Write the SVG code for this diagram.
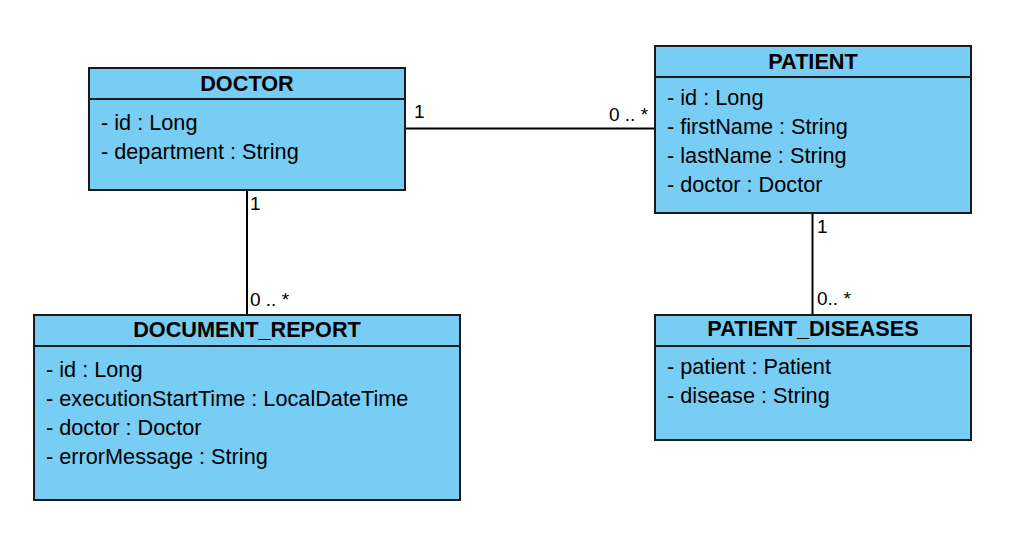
<svg xmlns="http://www.w3.org/2000/svg" width="1013" height="556" viewBox="0 0 1013 556">
<style>
.box{fill:#78CDF4;stroke:#1a1a1a;stroke-width:2}
.div{stroke:#1a1a1a;stroke-width:2;fill:none}
.title{font-family:"Liberation Sans",Arial,sans-serif;font-size:21.7px;font-weight:bold;fill:#000;text-anchor:middle}
.attr{font-family:"Liberation Sans",Arial,sans-serif;font-size:21.7px;fill:#000}
.lbl{font-family:"Liberation Sans",Arial,sans-serif;font-size:19px;fill:#000}
.conn{stroke:#000;stroke-width:2;fill:none}
</style>
<rect width="1013" height="556" fill="#fff"/>
<g id="connectors">
<line class="conn" x1="405" y1="128.5" x2="655" y2="128.5"/>
<line class="conn" x1="247" y1="190" x2="247" y2="315"/>
<line class="conn" x1="812.5" y1="213" x2="812.5" y2="315"/>
<text class="lbl" x="414" y="118">1</text>
<text class="lbl" x="609" y="121">0 .. *</text>
<text class="lbl" x="250" y="210">1</text>
<text class="lbl" x="250" y="306">0 .. *</text>
<text class="lbl" x="817" y="233">1</text>
<text class="lbl" x="817" y="305">0.. *</text>
</g>
<g id="doctor">
<rect class="box" x="89" y="68" width="316" height="122"/>
<line class="div" x1="89" y1="99" x2="405" y2="99"/>
<text class="title" x="247" y="90.5">DOCTOR</text>
<text class="attr" x="101" y="130">- id : Long</text>
<text class="attr" x="101" y="159">- department : String</text>
</g>
<g id="patient">
<rect class="box" x="655" y="46" width="316" height="167"/>
<line class="div" x1="655" y1="77" x2="971" y2="77"/>
<text class="title" x="813" y="68.5">PATIENT</text>
<text class="attr" x="667" y="105">- id : Long</text>
<text class="attr" x="667" y="134">- firstName : String</text>
<text class="attr" x="667" y="163">- lastName : String</text>
<text class="attr" x="667" y="192">- doctor : Doctor</text>
</g>
<g id="document_report">
<rect class="box" x="34" y="315" width="426" height="185"/>
<line class="div" x1="34" y1="346" x2="460" y2="346"/>
<text class="title" x="247" y="337">DOCUMENT_REPORT</text>
<text class="attr" x="46" y="377">- id : Long</text>
<text class="attr" x="46" y="406">- executionStartTime : LocalDateTime</text>
<text class="attr" x="46" y="435">- doctor : Doctor</text>
<text class="attr" x="46" y="464">- errorMessage : String</text>
</g>
<g id="patient_diseases">
<rect class="box" x="655" y="315" width="316" height="125"/>
<line class="div" x1="655" y1="346" x2="971" y2="346"/>
<text class="title" x="813" y="336">PATIENT_DISEASES</text>
<text class="attr" x="667" y="374">- patient : Patient</text>
<text class="attr" x="667" y="403">- disease : String</text>
</g>
</svg>
